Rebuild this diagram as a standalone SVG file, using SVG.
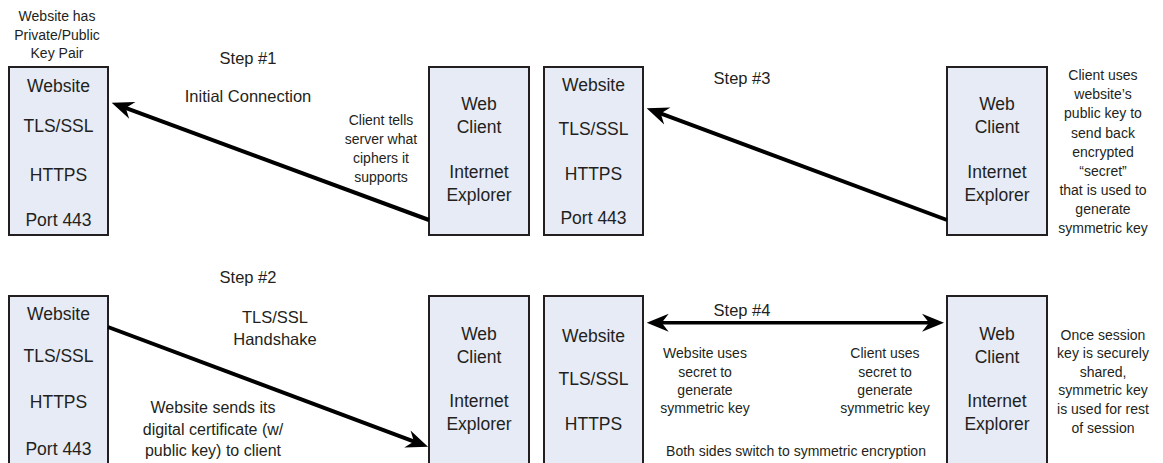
<svg xmlns="http://www.w3.org/2000/svg" width="1163" height="463" viewBox="0 0 1163 463">
<style>
text{font-family:"Liberation Sans",Arial,sans-serif;fill:#231f20;text-anchor:middle}
.box{fill:#e6ebf6;stroke:#231f20;stroke-width:2}
.bt{font-size:17.5px}
.st{font-size:16.5px}
.sm{font-size:14px}
.md{font-size:16px}
.conn{stroke:#000;stroke-width:4;fill:none}
</style>
<defs>
<marker id="ah" markerUnits="userSpaceOnUse" viewBox="-10 -10 26 20" refX="0" refY="0" markerWidth="26" markerHeight="20" orient="auto-start-reverse">
<path d="M14,0 L-8,-9 L-1,0 L-8,9 Z" fill="#000"/>
</marker>
</defs>
<rect width="1163" height="463" fill="#fff"/>

<g id="labels">
<text class="sm" x="57" y="21">Website has</text>
<text class="sm" x="57" y="39.5">Private/Public</text>
<text class="sm" x="57" y="58">Key Pair</text>
<text class="st" x="248" y="64">Step #1</text>
<text class="st" x="248" y="101.5">Initial Connection</text>
<text class="sm" x="381" y="125">Client tells</text>
<text class="sm" x="381" y="144">server what</text>
<text class="sm" x="381" y="163">ciphers it</text>
<text class="sm" x="381" y="182">supports</text>
<text class="st" x="742" y="84">Step #3</text>
<text class="sm" x="1103" y="80">Client uses</text>
<text class="sm" x="1103" y="99">website’s</text>
<text class="sm" x="1103" y="118">public key to</text>
<text class="sm" x="1103" y="138">send back</text>
<text class="sm" x="1103" y="157">encrypted</text>
<text class="sm" x="1103" y="176">“secret”</text>
<text class="sm" x="1103" y="195">that is used to</text>
<text class="sm" x="1103" y="214">generate</text>
<text class="sm" x="1103" y="233">symmetric key</text>
<text class="st" x="248" y="283">Step #2</text>
<text class="st" x="275" y="323">TLS/SSL</text>
<text class="st" x="275" y="345">Handshake</text>
<text class="md" x="213" y="413">Website sends its</text>
<text class="md" x="213" y="435">digital certificate (w/</text>
<text class="md" x="213" y="456">public key) to client</text>
<text class="st" x="742" y="316">Step #4</text>
<text class="sm" x="705" y="358">Website uses</text>
<text class="sm" x="705" y="377">secret to</text>
<text class="sm" x="705" y="395">generate</text>
<text class="sm" x="705" y="413">symmetric key</text>
<text class="sm" x="885" y="358">Client uses</text>
<text class="sm" x="885" y="377">secret to</text>
<text class="sm" x="885" y="395">generate</text>
<text class="sm" x="885" y="413">symmetric key</text>
<text class="sm" x="796" y="456">Both sides switch to symmetric encryption</text>
<text class="sm" x="1103" y="340">Once session</text>
<text class="sm" x="1103" y="358">key is securely</text>
<text class="sm" x="1103" y="377">shared,</text>
<text class="sm" x="1103" y="395">symmetric key</text>
<text class="sm" x="1103" y="414">is used for rest</text>
<text class="sm" x="1103" y="433">of session</text>
</g>

<g id="website1">
<rect class="box" x="9" y="67" width="99" height="168"/>
<text class="bt" x="58.5" y="91.5">Website</text>
<text class="bt" x="58.5" y="132">TLS/SSL</text>
<text class="bt" x="58.5" y="180.5">HTTPS</text>
<text class="bt" x="58.5" y="225.5">Port 443</text>
</g>
<g id="client1">
<rect class="box" x="429" y="67" width="100" height="168"/>
<text class="bt" x="479" y="110">Web</text>
<text class="bt" x="479" y="133">Client</text>
<text class="bt" x="479" y="178">Internet</text>
<text class="bt" x="479" y="201">Explorer</text>
</g>
<g id="website3">
<rect class="box" x="544" y="67" width="99" height="168"/>
<text class="bt" x="593.5" y="91">Website</text>
<text class="bt" x="593.5" y="135">TLS/SSL</text>
<text class="bt" x="593.5" y="180">HTTPS</text>
<text class="bt" x="593.5" y="224">Port 443</text>
</g>
<g id="client3">
<rect class="box" x="947" y="67" width="100" height="168"/>
<text class="bt" x="997" y="110">Web</text>
<text class="bt" x="997" y="133">Client</text>
<text class="bt" x="997" y="178">Internet</text>
<text class="bt" x="997" y="201">Explorer</text>
</g>
<g id="website2">
<rect class="box" x="9" y="296" width="99" height="190"/>
<text class="bt" x="58.5" y="320">Website</text>
<text class="bt" x="58.5" y="362">TLS/SSL</text>
<text class="bt" x="58.5" y="408">HTTPS</text>
<text class="bt" x="58.5" y="455">Port 443</text>
</g>
<g id="client2">
<rect class="box" x="429" y="296" width="100" height="190"/>
<text class="bt" x="479" y="340">Web</text>
<text class="bt" x="479" y="363">Client</text>
<text class="bt" x="479" y="407">Internet</text>
<text class="bt" x="479" y="430">Explorer</text>
</g>
<g id="website4">
<rect class="box" x="544" y="296" width="99" height="190"/>
<text class="bt" x="593.5" y="342">Website</text>
<text class="bt" x="593.5" y="385">TLS/SSL</text>
<text class="bt" x="593.5" y="430">HTTPS</text>
</g>
<g id="client4">
<rect class="box" x="947" y="296" width="100" height="190"/>
<text class="bt" x="997" y="340">Web</text>
<text class="bt" x="997" y="363">Client</text>
<text class="bt" x="997" y="407">Internet</text>
<text class="bt" x="997" y="430">Explorer</text>
</g>

<g id="connectors">
<line class="conn" x1="429" y1="220" x2="124.8" y2="107.6" marker-end="url(#ah)"/>
<line class="conn" x1="108" y1="327" x2="414.9" y2="441.8" marker-end="url(#ah)"/>
<line class="conn" x1="947" y1="220" x2="659.8" y2="113.2" marker-end="url(#ah)"/>
<line class="conn" style="stroke-width:3.5" x1="660.7" y1="322.7" x2="930" y2="322.7" marker-start="url(#ah)" marker-end="url(#ah)"/>
</g>
</svg>
